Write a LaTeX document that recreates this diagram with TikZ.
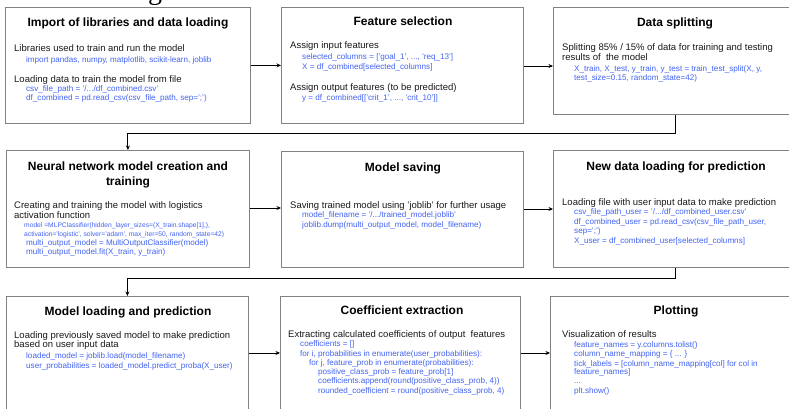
\documentclass[tikz,border=0pt]{standalone}
\usepackage{fontspec}
\setmainfont{Liberation Sans}
\newfontfamily\capserif{Liberation Serif}
\usetikzlibrary{arrows.meta,positioning}

\definecolor{boxgray}{RGB}{130,130,130}
\definecolor{codeblue}{RGB}{66,99,245}
\definecolor{bodyink}{RGB}{25,25,25}

\tikzset{
  stagebox/.style={draw=boxgray, line width=0.8pt, fill=white, inner sep=0pt, anchor=north west},
  flow/.style={line width=0.9pt, -{Stealth[length=4.5pt,width=4pt]}},
  ttl/.style={anchor=base, inner sep=0pt, font=\fontsize{12}{14}\selectfont\bfseries},
  txt/.style={anchor=base west, inner sep=0pt, text=bodyink, font=\fontsize{9.5}{11}\selectfont},
  code/.style={anchor=base west, inner sep=0pt, text=codeblue, font=\fontsize{8.1}{9}\selectfont},
  codesmall/.style={anchor=base west, inner sep=0pt, text=codeblue, font=\fontsize{6.7}{8}\selectfont},
}

\begin{document}
\begin{tikzpicture}[x=1pt,y=-1pt]
\useasboundingbox (0,0) rectangle (789,409);
\clip (0,0) rectangle (789,409);

% tail of a caption letter above the chart
\node[anchor=base, inner sep=0pt, font=\capserif\fontsize{28}{30}\selectfont] (capg) at (155,0) {g};

% ---------- stage boxes ----------
\node[stagebox, minimum width=245pt, minimum height=116pt] (A) at (5,7) {};
\node[stagebox, minimum width=242pt, minimum height=116pt] (B) at (281,7) {};
\node[stagebox, minimum width=244pt, minimum height=107pt] (C) at (553,7) {};

\node[stagebox, minimum width=243pt, minimum height=117pt] (D) at (6,150) {};
\node[stagebox, minimum width=242pt, minimum height=116pt] (E) at (281,151) {};
\node[stagebox, minimum width=244pt, minimum height=117pt] (F) at (553,150) {};

\node[stagebox, minimum width=242pt, minimum height=115pt] (G) at (6,296) {};
\node[stagebox, minimum width=240pt, minimum height=115pt] (H) at (280,296) {};
\node[stagebox, minimum width=247pt, minimum height=115pt] (I) at (550,296) {};

% ---------- connectors ----------
\draw[flow] (A.east) -- (B.west);
\draw[flow] (B.east |- 0,66) -- (C.west |- 0,66);
\draw[flow] (C.south) -- ++(0,19) -| (D.north);
\draw[flow] (D.east |- 0,208) -- (E.west |- 0,208);
\draw[flow] (E.east |- 0,209) -- (F.west |- 0,209);
\draw[flow] (F.south) -- ++(0,11) -| (G.north);
\draw[flow] (G.east |- 0,353) -- (H.west |- 0,353);
\draw[flow] (H.east |- 0,353) -- (I.west |- 0,353);

% ---------- Import of libraries and data loading ----------
\node[ttl] (tA) at (128,27) {Import of libraries and data loading};
\node[txt] (a1) at (14,52) {Libraries used to train and run the model};
\node[code] (a2) at (26,63) {import pandas, numpy, matplotlib, scikit-learn, joblib};
\node[txt] (a3) at (14,83) {Loading data to train the model from file};
\node[code] (a4) at (26,92) {csv\_file\_path = '/.../df\_combined.csv'};
\node[code] (a5) at (26,101) {df\_combined = pd.read\_csv(csv\_file\_path, sep=';')};

% ---------- Feature selection ----------
\node[ttl] (tB) at (403,26) {Feature selection};
\node[txt] (b1) at (290,49) {Assign input features};
\node[code] (b2) at (302,60) {selected\_columns = ['goal\_1', ..., 'req\_13']};
\node[code] (b3) at (302,70) {X = df\_combined[selected\_columns]};
\node[txt] (b4) at (290,91) {Assign output features (to be predicted)};
\node[code] (b5) at (302,101) {y = df\_combined[['crit\_1', ..., 'crit\_10']]};

% ---------- Data splitting ----------
\node[ttl] (tC) at (675,27) {Data splitting};
\node[txt] (c1) at (562,51) {Splitting 85\% / 15\% of data for training and testing};
\node[txt] (c2) at (562,61) {results of \ the model};
\node[code] (c3) at (574,72) {X\_train, X\_test, y\_train, y\_test = train\_test\_split(X, y,};
\node[code] (c4) at (574,81) {test\_size=0.15, random\_state=42)};

% ---------- Neural network model creation and training ----------
\node[ttl] (tD1) at (128,170) {Neural network model creation and};
\node[ttl] (tD2) at (128,185) {training};
\node[txt] (d1) at (14,208) {Creating and training the model with logistics};
\node[txt] (d2) at (14,218) {activation function};
\node[codesmall] (d3) at (24,227) {model =MLPClassifier(hidden\_layer\_sizes=(X\_train.shape[1],),};
\node[codesmall] (d4) at (24,236) {activation='logistic', solver='adam', max\_iter=50, random\_state=42)};
\node[code] (d5) at (26,245) {multi\_output\_model = MultiOutputClassifier(model)};
\node[code] (d6) at (26,254) {multi\_output\_model.fit(X\_train, y\_train)};

% ---------- Model saving ----------
\node[ttl] (tE) at (403,171) {Model saving};
\node[txt] (e1) at (290,208) {Saving trained model using 'joblib' for further usage};
\node[code] (e2) at (302,217) {model\_filename = '/.../trained\_model.joblib'};
\node[code] (e3) at (302,227) {joblib.dump(multi\_output\_model, model\_filename)};

% ---------- New data loading for prediction ----------
\node[ttl] (tF) at (676,170) {New data loading for prediction};
\node[txt] (f1) at (562,205) {Loading file with user input data to make prediction};
\node[code] (f2) at (574,214) {csv\_file\_path\_user = '/.../df\_combined\_user.csv'};
\node[code] (f3) at (574,224) {df\_combined\_user = pd.read\_csv(csv\_file\_path\_user,};
\node[code] (f4) at (574,233) {sep=';')};
\node[code] (f5) at (574,243) {X\_user = df\_combined\_user[selected\_columns]};

% ---------- Model loading and prediction ----------
\node[ttl] (tG) at (128,315) {Model loading and prediction};
\node[txt] (g1) at (14,338) {Loading previously saved model to make prediction};
\node[txt] (g2) at (14,347) {based on user input data};
\node[code] (g3) at (26,358) {loaded\_model = joblib.load(model\_filename)};
\node[code] (g4) at (26,368) {user\_probabilities = loaded\_model.predict\_proba(X\_user)};

% ---------- Coefficient extraction ----------
\node[ttl] (tH) at (402,314) {Coefficient extraction};
\node[txt] (h1) at (288,337) {Extracting calculated coefficients of output \ features};
\node[code] (h2) at (300,346) {coefficients = []};
\node[code] (h3) at (300,356) {for i, probabilities in enumerate(user\_probabilities):};
\node[code] (h4) at (309,365) {for j, feature\_prob in enumerate(probabilities):};
\node[code] (h5) at (318,374) {positive\_class\_prob = feature\_prob[1]};
\node[code] (h6) at (318,383) {coefficients.append(round(positive\_class\_prob, 4))};
\node[code] (h7) at (318,393) {rounded\_coefficient = round(positive\_class\_prob, 4)};

% ---------- Plotting ----------
\node[ttl] (tI) at (676,314) {Plotting};
\node[txt] (i1) at (562,337) {Visualization of results};
\node[code] (i2) at (574,347) {feature\_names = y.columns.tolist()};
\node[code] (i3) at (574,356) {column\_name\_mapping = \{ ... \}};
\node[code] (i4) at (574,366) {tick\_labels = [column\_name\_mapping[col] for col in};
\node[code] (i5) at (574,374) {feature\_names]};
\node[code] (i6) at (574,383) {...};
\node[code] (i7) at (574,393) {plt.show()};
\end{tikzpicture}
\end{document}
